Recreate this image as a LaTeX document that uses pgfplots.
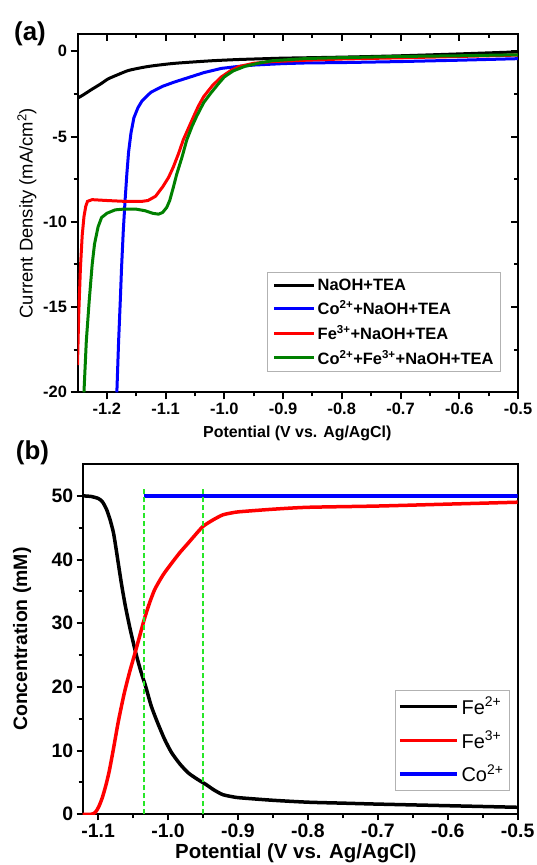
\documentclass[border=0pt]{standalone}
\usepackage{pgfplots}
\pgfplotsset{compat=1.18}
\usepackage{fontspec}
\setmainfont{Liberation Sans}
\definecolor{dgreen}{RGB}{0,128,0}
\definecolor{lgreen}{RGB}{40,230,40}
\begin{document}
\begin{tikzpicture}
\useasboundingbox (0bp,0bp) rectangle (537bp,865bp);
% ---------------- panel (a) ----------------
\pgfplotsset{
  panela/.style={
    at={(77.5bp,472.7bp)}, anchor=south west, scale only axis,
    width=440.5bp, height=358bp,
    xmin=-1.25, xmax=-0.5, ymin=-20, ymax=1,
    xtick={-1.2,-1.1,-1.0,-0.9,-0.8,-0.7,-0.6,-0.5},
    ytick={-20,-15,-10,-5,0},
    minor x tick num=1, minor y tick num=1,
    major tick length=7bp, minor tick length=4bp,
    tick style={line width=2bp, black},
    axis line style={line width=2bp},
  }
}
% inward ticks on top and right of panel (a)
\begin{axis}[panela,
    tick align=inside, xtick pos=right, ytick pos=right,
    xticklabels={}, yticklabels={},
  ]
\addplot[draw=none, forget plot] coordinates {(-1.0,-10)};
\end{axis}
\begin{axis}[panela,
    tick align=outside, xtick pos=left, ytick pos=left,
    /pgf/number format/assume math mode=true,
    ticklabel style={font=\bfseries\fontsize{16.5}{16.5}\selectfont},
    xticklabel style={/pgf/number format/.cd, fixed, fixed zerofill, precision=1},
    xlabel={Potential (V vs. Ag/AgCl)},
    xlabel style={font=\bfseries\fontsize{16}{16}\selectfont, at={(rel axis cs:0.499,-0.116)}, anchor=center},
    ylabel={Current Density (mA/cm\textsuperscript{2})},
    ylabel style={font=\fontsize{18.5}{18.5}\selectfont, at={(rel axis cs:-0.115,0.5)}, anchor=center},
    legend style={at={(0.961,0.056)}, anchor=south east, draw=gray!60, line width=0.8bp,
      font=\bfseries\fontsize{16.5}{16.5}\selectfont, nodes={inner sep=2bp}, row sep=5bp,
      inner xsep=5bp, inner ysep=4bp, cells={anchor=west}},
    legend image code/.code={\draw[#1, line width=3bp] (0bp,0bp) -- (40bp,0bp);},
  ]
\addplot[black, line width=3bp, smooth, tension=0.4] coordinates {
(-1.25,-2.75) (-1.24,-2.55) (-1.227,-2.26) (-1.21,-1.9) (-1.198,-1.62) (-1.18,-1.35)
(-1.163,-1.12) (-1.14,-0.95) (-1.122,-0.85) (-1.09,-0.72) (-1.064,-0.65) (-1.02,-0.55)
(-0.976,-0.48) (-0.93,-0.43) (-0.90,-0.40) (-0.80,-0.34) (-0.70,-0.26) (-0.60,-0.15) (-0.50,-0.03)};
\addlegendentry{NaOH+TEA}
\addplot[blue, line width=3bp] coordinates {
(-1.183,-20) (-1.180,-17) (-1.177,-14.5) (-1.175,-12.7) (-1.172,-10.5) (-1.169,-8.75)
(-1.166,-7.2) (-1.163,-5.9) (-1.159,-4.8) (-1.154,-3.9) (-1.147,-3.3) (-1.140,-2.9)
(-1.125,-2.4) (-1.105,-2.05) (-1.085,-1.8) (-1.064,-1.57) (-1.035,-1.25) (-1.005,-1.0)
(-0.975,-0.88) (-0.947,-0.8) (-0.90,-0.72) (-0.86,-0.68) (-0.80,-0.66) (-0.70,-0.6)
(-0.60,-0.52) (-0.50,-0.43)};
\addlegendentry{Co\textsuperscript{2+}+NaOH+TEA}
\addplot[red, line width=3bp] coordinates {
(-1.25,-18.4) (-1.248,-15.5) (-1.245,-12.7) (-1.242,-10.8) (-1.239,-9.7) (-1.236,-9.1)
(-1.233,-8.8) (-1.225,-8.7) (-1.20,-8.75) (-1.17,-8.8) (-1.14,-8.8) (-1.13,-8.75)
(-1.117,-8.5) (-1.105,-7.95) (-1.095,-7.4) (-1.087,-6.8) (-1.078,-6.0) (-1.07,-5.2)
(-1.061,-4.5) (-1.052,-3.8) (-1.044,-3.2) (-1.035,-2.65) (-1.02,-2.0) (-1.005,-1.5)
(-0.99,-1.15) (-0.976,-0.9) (-0.95,-0.7) (-0.918,-0.6) (-0.86,-0.52) (-0.80,-0.45)
(-0.70,-0.38) (-0.60,-0.3) (-0.50,-0.22)};
\addlegendentry{Fe\textsuperscript{3+}+NaOH+TEA}
\addplot[dgreen, line width=3bp] coordinates {
(-1.239,-20) (-1.235,-17) (-1.230,-14.6) (-1.225,-12.5) (-1.221,-11.3) (-1.215,-10.3)
(-1.209,-9.75) (-1.20,-9.5) (-1.186,-9.3) (-1.17,-9.25) (-1.151,-9.25) (-1.135,-9.35)
(-1.122,-9.5) (-1.112,-9.55) (-1.105,-9.45) (-1.098,-9.15) (-1.093,-8.75) (-1.087,-8.0)
(-1.081,-7.2) (-1.072,-6.2) (-1.064,-5.2) (-1.055,-4.4) (-1.047,-3.8) (-1.035,-3.0)
(-1.023,-2.45) (-1.01,-1.9) (-1.0,-1.5) (-0.985,-1.15) (-0.965,-0.88) (-0.94,-0.68)
(-0.918,-0.55) (-0.86,-0.42) (-0.80,-0.37) (-0.70,-0.3) (-0.60,-0.26) (-0.50,-0.2)};
\addlegendentry{Co\textsuperscript{2+}+Fe\textsuperscript{3+}+NaOH+TEA}
\end{axis}
\node[font=\bfseries\fontsize{26}{26}\selectfont] at (30bp,831bp) {(a)};
% ---------------- panel (b) ----------------
\begin{axis}[
    at={(82.7bp,50.7bp)}, anchor=south west, scale only axis,
    width=435bp, height=350.3bp,
    xmin=-1.122, xmax=-0.5, ymin=0, ymax=55,
    xtick={-1.1,-1.0,-0.9,-0.8,-0.7,-0.6,-0.5},
    ytick={0,10,20,30,40,50},
    minor x tick num=1, minor y tick num=1,
    major tick length=6bp, minor tick length=4bp,
    tick style={line width=2bp, black},
    tick align=outside, xtick pos=left, ytick pos=left,
    axis line style={line width=2bp},
    /pgf/number format/assume math mode=true,
    ticklabel style={font=\bfseries\fontsize{19.5}{19.5}\selectfont},
    xticklabel style={/pgf/number format/.cd, fixed, fixed zerofill, precision=1},
    xlabel={Potential (V vs. Ag/AgCl)},
    xlabel style={font=\bfseries\fontsize{20.5}{20.5}\selectfont, at={(rel axis cs:0.49,-0.110)}, anchor=center},
    ylabel={Concentration (mM)},
    ylabel style={font=\bfseries\fontsize{19.5}{19.5}\selectfont, at={(rel axis cs:-0.1395,0.5)}, anchor=center},
    legend style={at={(0.982,0.067)}, anchor=south east, draw=gray!60, line width=0.8bp,
      font=\fontsize{20}{20}\selectfont, nodes={inner sep=3bp}, row sep=9bp,
      inner xsep=3bp, inner ysep=4bp, cells={anchor=west}},
    legend image code/.code={\draw[#1, line width=3.5bp] (0bp,0bp) -- (57bp,0bp);},
  ]
\addplot[black, line width=3.5bp, smooth, tension=0.4] coordinates {
(-1.122,50.0) (-1.11,49.9) (-1.10,49.6) (-1.094,49.1) (-1.088,47.9) (-1.083,46.3)
(-1.078,44.2) (-1.074,41.5) (-1.070,38.6) (-1.066,35.8) (-1.061,32.7) (-1.054,29.0)
(-1.046,25.3) (-1.039,22.5) (-1.032,20.1) (-1.024,17.0) (-1.015,14.4) (-1.005,11.8)
(-0.995,9.7) (-0.983,7.9) (-0.971,6.5) (-0.958,5.5) (-0.946,4.7) (-0.934,3.8)
(-0.922,3.1) (-0.91,2.8) (-0.898,2.6) (-0.85,2.2) (-0.80,1.9) (-0.75,1.75) (-0.70,1.6)
(-0.60,1.35) (-0.50,1.1)};
\addlegendentry{Fe\textsuperscript{2+}}
\addplot[red, line width=3.5bp, smooth, tension=0.4] coordinates {
(-1.122,0) (-1.110,0) (-1.104,0.3) (-1.099,1.2) (-1.094,2.6) (-1.089,4.5) (-1.084,6.8)
(-1.078,10.3) (-1.071,14.6) (-1.063,18.8) (-1.055,22.3) (-1.046,25.8) (-1.04,28.2)
(-1.034,30.6) (-1.027,33.0) (-1.019,35.3) (-1.007,37.6) (-0.995,39.4) (-0.983,41.1)
(-0.971,42.6) (-0.96,44.0) (-0.95,45.2) (-0.936,46.2) (-0.922,47.0) (-0.91,47.3)
(-0.898,47.5) (-0.85,47.9) (-0.80,48.2) (-0.70,48.4) (-0.60,48.7) (-0.50,49.0)};
\addlegendentry{Fe\textsuperscript{3+}}
\addplot[blue, line width=3.5bp] coordinates {(-1.035,50) (-0.5,50)};
\addlegendentry{Co\textsuperscript{2+}}
\addplot[lgreen, line width=2bp, dash pattern=on 5bp off 3bp, forget plot] coordinates {(-1.035,0) (-1.035,51.3)};
\addplot[lgreen, line width=2bp, dash pattern=on 5bp off 3bp, forget plot] coordinates {(-0.95,0) (-0.95,51.3)};
\end{axis}
\node[font=\bfseries\fontsize{26}{26}\selectfont] at (32.5bp,412bp) {(b)};
\end{tikzpicture}
\end{document}
